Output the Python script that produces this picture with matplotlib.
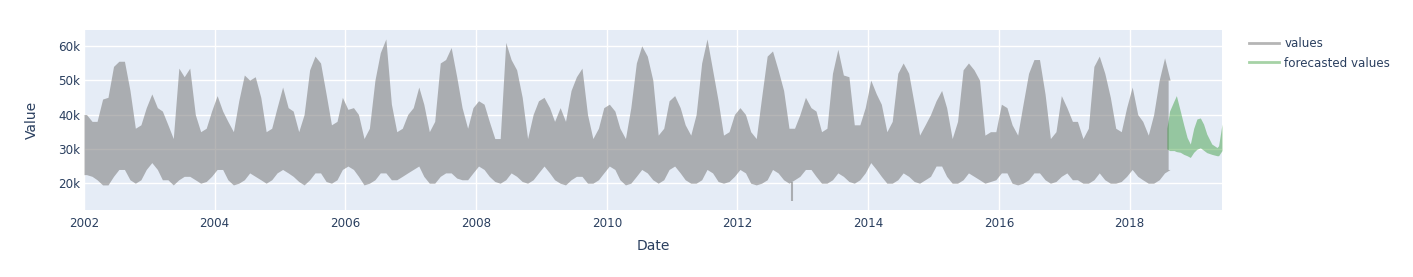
import numpy as np
import pandas as pd
import matplotlib
matplotlib.use('Agg')
import matplotlib.pyplot as plt
from matplotlib.lines import Line2D

# 月度包络，单位：千
hi = [
    40, 38, 38, 44.5, 45, 54, 55.5, 55.5, 47, 36, 37, 42,      # 2002
    46, 42, 41, 37, 33, 53.5, 51, 53.5, 40, 35, 36, 41,        # 2003
    45.5, 41, 38, 35, 44, 51.5, 50, 51, 45, 35, 36, 42,        # 2004
    48, 42, 41, 35, 40, 53, 57, 55, 46, 37, 38, 45,            # 2005
    41.5, 42, 40, 33, 36, 50, 58, 62, 43, 35, 36, 40,          # 2006
    42, 48, 43, 35, 38, 55, 56, 59.5, 51, 42, 36, 42,          # 2007
    44, 43, 38, 33, 33, 61, 56, 53, 45, 33, 40, 44,            # 2008
    45, 42, 38, 42, 38, 47, 51, 53.5, 40, 33, 36, 42,          # 2009
    43, 41, 36, 33, 42, 55, 60, 57, 50, 34, 36, 44,            # 2010
    45.5, 42, 37, 34, 40, 55, 62, 53, 44, 34, 35, 40,          # 2011
    42, 40, 35, 33, 45, 57, 58.5, 53, 47, 36, 36, 40,          # 2012
    45, 42, 41, 35, 36, 52, 59, 51.5, 51, 37, 37, 42,          # 2013
    50, 46, 43, 35, 38, 52, 55, 52, 43, 34, 37, 40,            # 2014
    44, 47, 42, 33, 38, 53, 55, 53, 50, 34, 35, 35,            # 2015
    43, 42, 37, 34, 43, 52, 56, 56, 46, 33, 35, 45.5,          # 2016
    42, 38, 38, 33, 36, 54, 57, 52, 45, 36, 35, 42,            # 2017
    48, 40, 38, 34, 40, 50, 56.5, 50,                          # 2018
]
lo = [
    22.5, 22, 21, 19.5, 19.5, 22, 24, 24, 21, 20, 21, 24,
    26, 24, 21, 21, 19.5, 21, 22, 22, 21, 20, 20.5, 22,
    24, 24, 21, 19.5, 20, 21, 23, 22, 21, 20, 21, 23,
    24, 23, 22, 20.5, 19.5, 21, 23, 23, 20.5, 20, 21, 24,
    25, 24, 22, 19.5, 20, 21, 23, 23, 21, 21, 22, 23,
    24, 25, 22, 20, 20, 22, 23, 23, 21.5, 21, 21, 23,
    25, 24, 22, 20.5, 20, 21, 23, 22, 20.5, 20, 21, 23,
    25, 23, 21, 20, 19.5, 21, 22, 22, 20, 20, 21, 23,
    25, 24, 21, 19.5, 20, 22, 24, 23, 21, 20, 21, 24,
    25, 23, 21, 20, 20, 21, 24, 23, 20.5, 20, 20.5, 22,
    24, 23, 20, 19.5, 20, 21, 24, 23, 21, 20, 21, 22,
    24, 24, 22, 20, 20, 21, 23, 22, 20.5, 20, 21, 23,
    26, 24, 22, 20, 20, 21, 23, 22, 20.5, 20, 21, 22,
    25, 25, 22, 20, 20, 21, 23, 22, 21, 20, 20.5, 21,
    23, 23, 20, 19.5, 20, 21, 23, 23, 21, 20, 20.5, 22,
    23, 21, 21, 20, 20, 21, 23, 21, 20, 20, 20.5, 22,
    24, 22, 21, 20, 20, 21, 23, 24,
]
data_start = '2002-01-01'
data_end = '2018-08-04'

# 单点尖峰（2012 年 10 月 Sandy 低谷）
spike_dates = ['2012-10-30']
spike_lo = [14.8]

# 预测值包络
fc_dates = ['2018-07-28', '2018-08-12', '2018-09-06', '2018-09-19', '2018-10-11',
            '2018-10-30', '2018-11-18', '2018-12-06', '2018-12-25', '2019-01-12',
            '2019-01-31', '2019-02-18', '2019-03-08', '2019-04-05', '2019-05-04',
            '2019-05-13', '2019-06-01']
fc_hi = [36, 41, 44, 45.5, 41, 37, 33.3, 31.4, 36, 38.7, 39, 37.2, 34.3, 31.4, 30.4, 30.9, 37.2]
fc_lo = [30, 29.5, 29.5, 29.2, 29, 28.4, 28, 27.5, 29, 29.9, 30.3, 29.6, 28.9, 28.4, 28, 28, 29.5]

y_ticks = [20000, 30000, 40000, 50000, 60000]
y_labels = ['20k', '30k', '40k', '50k', '60k']
x_ticks = [str(y) for y in range(2002, 2019, 2)]

txt = '#2a3f5f'
plt.rcParams['font.family'] = ['DejaVu Sans']

fig = plt.figure(figsize=(14.13, 2.77), dpi=100)
ax = fig.add_axes([84 / 1413, 1 - 210 / 277, 1138 / 1413, 180 / 277])
ax.set_facecolor('#E5ECF6')
ax.set_axisbelow(True)

# 月中取点，首尾补到数据起止日
mid = pd.date_range(data_start, periods=len(hi), freq='MS') + pd.Timedelta(days=14)
x = [pd.Timestamp(data_start)] + list(mid) + [pd.Timestamp(data_end)]
y_hi = np.array([hi[0]] + hi + [hi[-1]]) * 1000
y_lo = np.array([lo[0]] + lo + [lo[-1]]) * 1000
ax.fill_between(x, y_lo, y_hi, color='gray', alpha=0.58, linewidth=0)

# 尖峰：从月包络下沿往下画
for d, v in zip(spike_dates, spike_lo):
    d = pd.Timestamp(d)
    base = np.interp(d.value, [t.value for t in x], y_lo)
    ax.vlines(d, v * 1000, base, color='gray', alpha=0.58, linewidth=1.5)

ax.fill_between(pd.to_datetime(fc_dates), np.array(fc_lo) * 1000, np.array(fc_hi) * 1000,
                color='green', alpha=0.35, linewidth=0)

ax.set_xlim(pd.Timestamp('2002-01-01'), pd.Timestamp('2019-06-01'))
ax.set_ylim(12200, 64600)
ax.set_yticks(y_ticks)
ax.set_yticklabels(y_labels)
ax.set_xticks(pd.to_datetime([t + '-01-01' for t in x_ticks]))
ax.set_xticklabels(x_ticks)
ax.grid(True, color='white', linewidth=1)
ax.tick_params(length=0, labelsize=8.6, colors=txt)
ax.tick_params(axis='y', pad=2.5)
ax.tick_params(axis='x', pad=5)
for s in ax.spines.values():
    s.set_visible(False)

ax.set_xlabel('Date', fontsize=10, color=txt, va='center')
ax.xaxis.set_label_coords(0.5, -(246 - 210) / 180)
ax.set_ylabel('Value', fontsize=10, color=txt, va='center')
ax.yaxis.set_label_coords((32 - 84) / 1138, 0.5)

handles = [Line2D([], [], color='gray', alpha=0.58, linewidth=2),
           Line2D([], [], color='green', alpha=0.35, linewidth=2)]
fig.legend(handles, ['values', 'forecasted values'], loc='upper left',
           bbox_to_anchor=(1249 / 1413, 1 - 37 / 277), frameon=False,
           fontsize=8.6, labelcolor=txt, handlelength=2.5, handletextpad=0.45,
           labelspacing=0.55, borderpad=0, borderaxespad=0)

fig.savefig('out.png', dpi=100)
